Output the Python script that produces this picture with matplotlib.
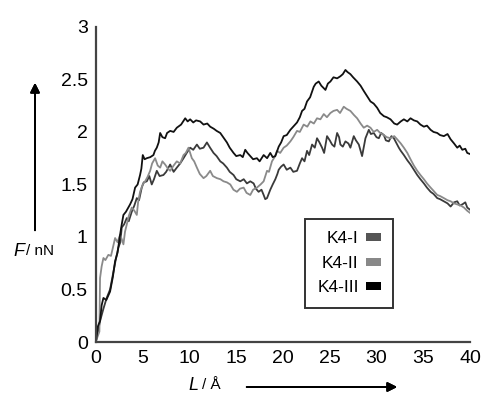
import matplotlib.pyplot as plt
from matplotlib.patches import Patch

plt.rcParams['font.family'] = ['Liberation Sans', 'DejaVu Sans']

# values, L in Angstrom, F in nN
k4_1_L = [0, 0.2, 0.43, 0.8, 1.14, 1.5, 1.86, 2.1, 2.39, 2.6, 2.75, 3.0, 3.29, 3.5, 3.82,
          4.1, 4.36, 4.6, 4.89, 5.1, 5.43, 5.7, 5.96, 6.2, 6.5, 6.8, 7.21, 7.5, 7.93, 8.3,
          8.64, 9.0, 9.36, 9.7, 10.07, 10.4, 10.79, 11.1, 11.5, 11.86, 12.2, 12.57, 12.9,
          13.29, 13.6, 14.0, 14.3, 14.71, 15.0, 15.43, 15.8, 16.14, 16.5, 16.86, 17.1,
          17.39, 17.7, 17.93, 18.1, 18.29, 18.64, 18.9, 19.18, 19.4, 19.54, 19.8, 20.07,
          20.4, 20.79, 21.1, 21.5, 21.8, 22.04, 22.3, 22.57, 22.8, 23.11, 23.4, 23.64,
          23.9, 24.18, 24.4, 24.71, 25.0, 25.25, 25.5, 25.79, 26.0, 26.14, 26.4, 26.68,
          27.0, 27.21, 27.57, 27.8, 28.11, 28.3, 28.46, 28.82, 29.18, 29.4, 29.71, 30.0,
          30.25, 30.5, 30.79, 31.0, 31.32, 31.6, 31.86, 32.1, 32.39, 32.6, 32.93, 33.3,
          33.64, 34.0, 34.36, 34.7, 35.07, 35.4, 35.79, 36.1, 36.5, 36.8, 37.21, 37.6,
          37.93, 38.3, 38.64, 38.9, 39.18, 39.5, 39.71, 40.0]
k4_1_F = [0.01, 0.10, 0.20, 0.32, 0.42, 0.50, 0.67, 0.78, 0.90, 0.95, 1.09, 1.12, 1.18, 1.15, 1.24,
          1.30, 1.37, 1.35, 1.47, 1.52, 1.53, 1.58, 1.50, 1.55, 1.63, 1.58, 1.59, 1.62, 1.69, 1.62,
          1.66, 1.70, 1.75, 1.80, 1.85, 1.83, 1.88, 1.84, 1.85, 1.90, 1.85, 1.80, 1.77,
          1.72, 1.70, 1.66, 1.62, 1.59, 1.55, 1.53, 1.55, 1.51, 1.53, 1.51, 1.46,
          1.43, 1.45, 1.40, 1.36, 1.37, 1.45, 1.50, 1.55, 1.60, 1.64, 1.67, 1.69,
          1.64, 1.66, 1.62, 1.63, 1.70, 1.75, 1.72, 1.82, 1.78, 1.88, 1.85, 1.94,
          1.90, 1.85, 1.80, 1.96, 1.92, 1.88, 1.86, 1.99, 1.95, 1.88, 1.86, 1.91,
          1.89, 1.85, 1.96, 1.92, 1.88, 1.82, 1.77, 1.94, 2.02, 1.98, 1.99, 1.95,
          1.94, 1.99, 1.97, 1.92, 1.91, 1.96, 1.94, 1.90, 1.85, 1.82, 1.78, 1.73,
          1.69, 1.64, 1.59, 1.55, 1.51, 1.47, 1.43, 1.41, 1.37, 1.36, 1.34, 1.32,
          1.29, 1.33, 1.34, 1.30, 1.31, 1.33, 1.28, 1.26]

k4_2_L = [0, 0.36, 0.43, 0.6, 0.79, 1.0, 1.32, 1.6, 2.04, 2.3, 2.57, 2.75, 2.93, 3.1, 3.29,
          3.5, 3.82, 4.1, 4.36, 4.5, 4.71, 5.0, 5.25, 5.5, 5.79, 6.0, 6.32, 6.6, 6.86, 7.1,
          7.39, 7.7, 7.93, 8.3, 8.64, 9.0, 9.36, 9.6, 9.89, 10.25, 10.5, 10.79, 11.1, 11.5,
          11.8, 12.21, 12.5, 12.93, 13.3, 13.64, 14.0, 14.36, 14.7, 15.07, 15.4, 15.79,
          16.1, 16.5, 16.8, 17.21, 17.6, 17.93, 18.29, 18.5, 18.82, 19.1, 19.36, 19.7,
          20.07, 20.4, 20.79, 21.1, 21.5, 21.8, 22.21, 22.6, 22.93, 23.3, 23.64, 24.0,
          24.36, 24.7, 25.07, 25.4, 25.79, 26.1, 26.5, 26.8, 27.21, 27.6, 27.93, 28.3,
          28.64, 29.0, 29.36, 29.7, 30.07, 30.4, 30.79, 31.1, 31.5, 31.9, 32.21, 32.6,
          32.93, 33.3, 33.64, 34.0, 34.36, 34.7, 35.07, 35.4, 35.79, 36.1, 36.5, 36.8,
          37.21, 37.6, 37.93, 38.3, 38.64, 39.0, 39.36, 39.7, 40.0]
k4_2_F = [0.01, 0.10, 0.61, 0.72, 0.80, 0.78, 0.83, 0.82, 0.99, 0.95, 1.02, 0.98, 0.93, 1.05, 1.12,
          1.20, 1.28, 1.25, 1.21, 1.33, 1.43, 1.50, 1.53, 1.57, 1.63, 1.70, 1.75, 1.68, 1.66, 1.72,
          1.69, 1.65, 1.63, 1.68, 1.72, 1.70, 1.78, 1.80, 1.85, 1.75, 1.72, 1.66, 1.60, 1.56,
          1.58, 1.63, 1.58, 1.56, 1.55, 1.53, 1.52, 1.50, 1.45, 1.43, 1.46, 1.47,
          1.42, 1.40, 1.45, 1.47, 1.50, 1.53, 1.63, 1.62, 1.72, 1.76, 1.82, 1.80,
          1.85, 1.87, 1.91, 1.95, 2.01, 2.00, 2.07, 2.05, 2.10, 2.08, 2.13, 2.12,
          2.17, 2.14, 2.18, 2.20, 2.21, 2.18, 2.24, 2.22, 2.20, 2.16, 2.13, 2.08,
          2.04, 2.06, 2.04, 2.00, 2.02, 1.99, 1.97, 1.95, 1.94, 1.96, 1.93, 1.89,
          1.85, 1.80, 1.74, 1.68, 1.63, 1.59, 1.55, 1.51, 1.47, 1.44, 1.40, 1.39,
          1.37, 1.35, 1.34, 1.32, 1.31, 1.30, 1.28, 1.25, 1.23]

k4_3_L = [0, 0.2, 0.43, 0.6, 0.79, 1.1, 1.5, 1.8, 2.04, 2.3, 2.57, 2.75, 2.93, 3.2, 3.64,
          3.9, 4.18, 4.45, 4.71, 4.85, 5.0, 5.2, 5.43, 5.8, 6.14, 6.3, 6.5, 6.7, 6.86, 7.1,
          7.39, 7.6, 7.93, 8.3, 8.64, 9.1, 9.54, 9.8, 10.07, 10.4, 10.7, 11.14, 11.5, 11.9,
          12.21, 12.6, 12.9, 13.29, 13.6, 14.0, 14.3, 14.71, 15.0, 15.43, 15.7, 15.96,
          16.2, 16.5, 16.8, 17.21, 17.5, 17.93, 18.3, 18.64, 18.9, 19.18, 19.54, 19.8,
          20.07, 20.4, 20.79, 21.1, 21.5, 21.8, 22.04, 22.3, 22.57, 22.9, 23.29, 23.5,
          23.82, 24.1, 24.54, 24.8, 25.07, 25.4, 25.79, 26.14, 26.4, 26.68, 26.9, 27.21,
          27.5, 27.93, 28.3, 28.64, 29.0, 29.36, 29.7, 30.07, 30.4, 30.79, 31.1, 31.5,
          31.9, 32.21, 32.6, 32.93, 33.3, 33.64, 34.0, 34.36, 34.7, 35.07, 35.4, 35.79,
          36.1, 36.5, 36.8, 37.21, 37.6, 37.93, 38.3, 38.64, 38.9, 39.18, 39.5, 39.71, 40.0]
k4_3_F = [0.01, 0.15, 0.20, 0.35, 0.42, 0.40, 0.48, 0.62, 0.77, 0.85, 1.02, 1.12, 1.21, 1.24, 1.31,
          1.36, 1.47, 1.50, 1.59, 1.65, 1.78, 1.74, 1.75, 1.76, 1.78, 1.82, 1.85, 1.90, 1.99, 1.95,
          1.94, 1.99, 2.01, 2.00, 2.04, 2.07, 2.13, 2.10, 2.12, 2.09, 2.11, 2.10, 2.07, 2.08,
          2.05, 2.03, 2.01, 1.99, 1.95, 1.90, 1.85, 1.80, 1.77, 1.78, 1.76, 1.83,
          1.80, 1.77, 1.74, 1.75, 1.72, 1.78, 1.75, 1.80, 1.76, 1.77, 1.86, 1.90,
          1.96, 1.97, 2.02, 2.05, 2.09, 2.14, 2.20, 2.22, 2.29, 2.33, 2.43, 2.46,
          2.48, 2.44, 2.40, 2.46, 2.48, 2.52, 2.51, 2.53, 2.55, 2.59, 2.57, 2.55,
          2.52, 2.48, 2.44, 2.39, 2.34, 2.29, 2.27, 2.23, 2.18, 2.15, 2.14, 2.12,
          2.08, 2.07, 2.10, 2.12, 2.10, 2.13, 2.11, 2.10, 2.07, 2.05, 2.06, 2.02,
          2.00, 1.99, 1.97, 1.96, 1.98, 1.93, 1.89, 1.85, 1.87, 1.83, 1.84, 1.80, 1.79]

names = ['K4-I', 'K4-II', 'K4-III']
line_colors = ['#3a3a3a', '#8a8a8a', '#111111']
patch_colors = ['#555555', '#888888', '#000000']
x_ticks = [0, 5, 10, 15, 20, 25, 30, 35, 40]
y_ticks = [0, 0.5, 1, 1.5, 2, 2.5, 3]

fig = plt.figure(figsize=(4.85, 4.01), dpi=100)
ax = fig.add_axes([0.198, 0.147, 0.771, 0.786])

series = [(k4_1_L, k4_1_F), (k4_2_L, k4_2_F), (k4_3_L, k4_3_F)]
for (xs, ys), c in zip(series, line_colors):
    ax.plot(xs, ys, color=c, lw=1.3)

ax.set_xlim(0, 40)
ax.set_ylim(0, 3)
ax.set_xticks(x_ticks)
ax.set_xticklabels([str(v) for v in x_ticks])
ax.set_yticks(y_ticks)
ax.set_yticklabels(['0', '0.5', '1', '1.5', '2', '2.5', '3'])
ax.tick_params(length=0, labelsize=14, pad=6)
for s in ['top', 'right']:
    ax.spines[s].set_visible(False)
for s in ['left', 'bottom']:
    ax.spines[s].set_color('#444444')
    ax.spines[s].set_linewidth(1.6)

handles = [Patch(facecolor=c, edgecolor='none') for c in patch_colors]
leg = ax.legend(handles, names, loc='upper left', bbox_to_anchor=(0.559, 0.39),
                borderaxespad=0, markerfirst=False, fontsize=12.5, frameon=True,
                fancybox=False, handlelength=0.9, handleheight=0.35, handletextpad=0.4,
                labelspacing=0.55, borderpad=0.7, alignment='right')
leg.get_frame().set_edgecolor('black')
leg.get_frame().set_linewidth(1.4)
for t in leg.get_texts():
    t.set_ha('right')

# axis captions with arrows
W, H = 485.0, 401.0
fig.text(13 / W, 1 - 251 / H, 'F', fontsize=13, style='italic', va='center', ha='left')
fig.text(26 / W, 1 - 251 / H, '/ nN', fontsize=11, va='center', ha='left')
fig.text(188 / W, 1 - 385 / H, 'L', fontsize=13, style='italic', va='center', ha='left')
fig.text(202 / W, 1 - 385 / H, '/ Å', fontsize=11, va='center', ha='left')
fig.add_artist(plt.annotate('', xy=(35 / W, 1 - 80 / H), xytext=(35 / W, 1 - 233 / H),
                            xycoords='figure fraction', textcoords='figure fraction',
                            arrowprops=dict(arrowstyle='-|>', color='black', lw=1.4,
                                            mutation_scale=14)))
fig.add_artist(plt.annotate('', xy=(400 / W, 1 - 387 / H), xytext=(244 / W, 1 - 387 / H),
                            xycoords='figure fraction', textcoords='figure fraction',
                            arrowprops=dict(arrowstyle='-|>', color='black', lw=1.4,
                                            mutation_scale=14)))

fig.savefig('out.png', dpi=100)
